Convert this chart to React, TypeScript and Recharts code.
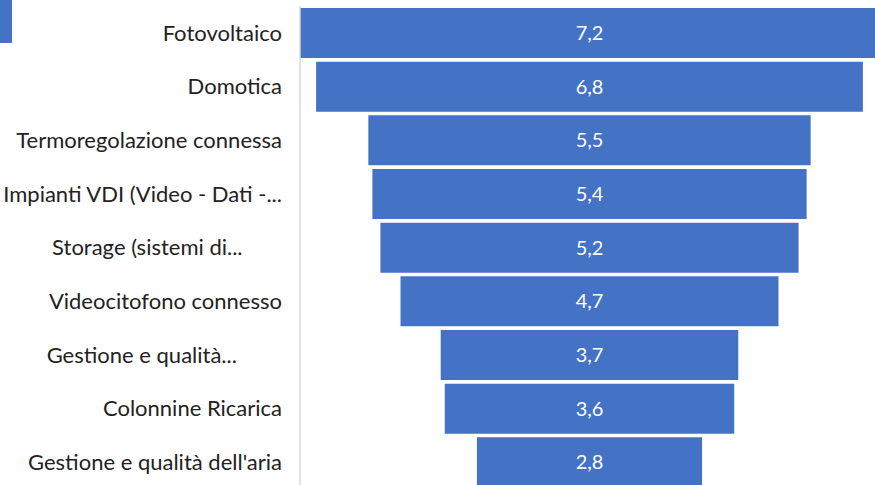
import React from 'react';
import {BarChart, Bar, XAxis, YAxis, LabelList} from 'recharts';

const pad = (n: number) => '\u00A0'.repeat(n);

const categories = [
    'Fotovoltaico',
    'Domotica',
    'Termoregolazione connessa',
    'Impianti VDI (Video - Dati -...',
    'Storage (sistemi di...' + pad(7),
    'Videocitofono connesso',
    'Gestione e qualità...' + pad(8),
    'Colonnine Ricarica',
    "Gestione e qualità dell'aria",
];

const values = [7.2, 6.8, 5.5, 5.4, 5.2, 4.7, 3.7, 3.6, 2.8];

const maxValue = Math.max(...values);

// funnel: an invisible spacer pushes each bar so it sits centred
const data = categories.map((name, i) => ({
    name,
    pad: (maxValue - values[i]) / 2,
    value: values[i],
}));

const BLUE = '#4472C4';
const FONT = 'Lato, "Noto Sans", sans-serif';

export default function App() {
    return (
        <div style={{position: 'absolute', left: 0, top: 0, width: 875, height: 485, overflow: 'hidden', background: '#fff'}}>
            <div style={{position: 'absolute', left: 0, top: 0, width: 12, height: 43, background: BLUE}}/>
            <BarChart
                width={879}
                height={489}
                data={data}
                layout="vertical"
                margin={{top: 6, right: 0, bottom: 0, left: 0}}
                style={{fontFamily: FONT}}
            >
                <XAxis type="number" domain={[0, maxValue]} hide/>
                <YAxis
                    type="category"
                    dataKey="name"
                    width={300}
                    tickLine={false}
                    tickSize={0}
                    tickMargin={18}
                    axisLine={{stroke: '#d9d9d9', strokeWidth: 1.5}}
                    tick={{fill: '#222', fontSize: 22, fontFamily: FONT}}
                    interval={0}
                />
                <Bar dataKey="pad" stackId="f" fill="transparent" barSize={50} isAnimationActive={false}/>
                <Bar dataKey="value" stackId="f" fill={BLUE} barSize={50} isAnimationActive={false}>
                    <LabelList
                        dataKey="value"
                        position="center"
                        fill="#fff"
                        fontSize={20}
                        fontFamily={FONT}
                        formatter={(v: number) => String(v).replace('.', ',')}
                    />
                </Bar>
            </BarChart>
        </div>
    );
}
